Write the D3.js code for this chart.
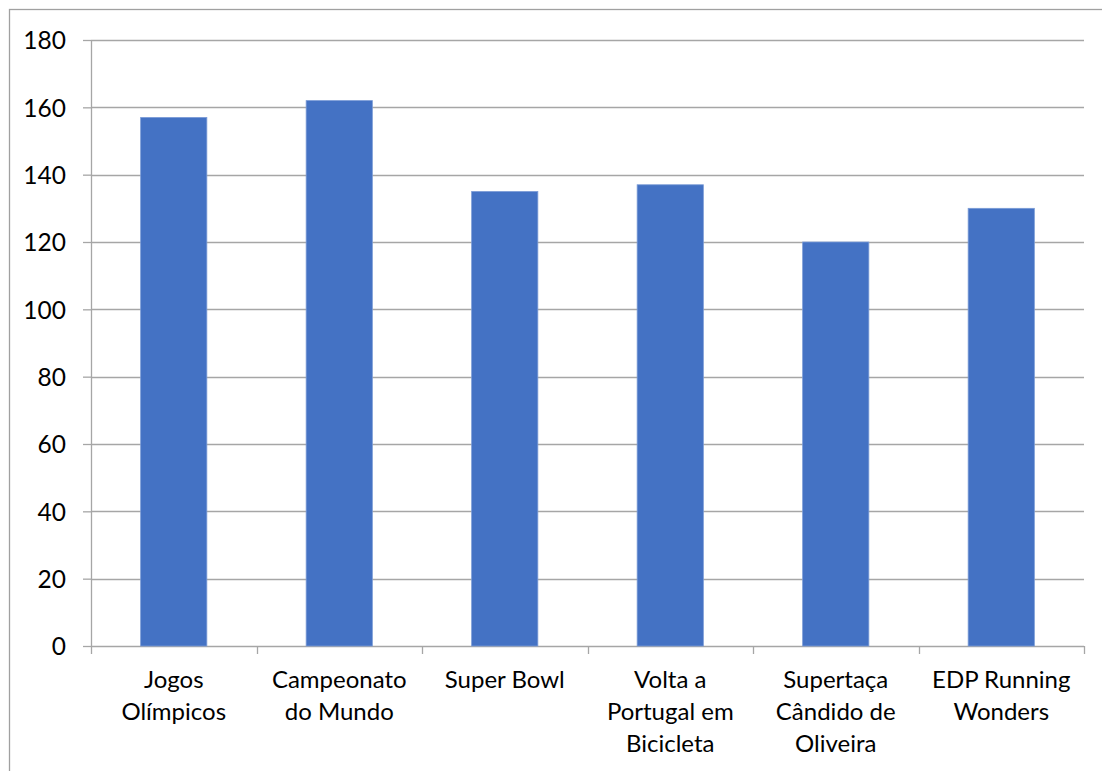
<!DOCTYPE html>
<html>
<head>
<meta charset="utf-8">
<script src="https://cdn.jsdelivr.net/npm/d3@7.9.0/dist/d3.min.js"></script>
<style>
  html, body { margin: 0; padding: 0; background: #fff; }
  svg { display: block; }
  text { font-family: Lato, "Open Sans", sans-serif; fill: #000; }
</style>
</head>
<body>
<div id="chart"></div>
<script>
const categories = [
  ["Jogos", "Olímpicos"],
  ["Campeonato", "do Mundo"],
  ["Super Bowl"],
  ["Volta a", "Portugal em", "Bicicleta"],
  ["Supertaça", "Cândido de", "Oliveira"],
  ["EDP Running", "Wonders"]
];
const values = [157, 162, 135, 137, 120, 130];
const yTicks = [0, 20, 40, 60, 80, 100, 120, 140, 160, 180];

const width = 1102;
const height = 771;
const area = { left: 91, right: 1084, top: 40, bottom: 646 };

const svg = d3.select("#chart")
  .append("svg")
  .attr("width", width)
  .attr("height", height);

// outer chart frame (only left and top visible in the picture)
svg.append("rect")
  .attr("x", 9.5)
  .attr("y", 9.5)
  .attr("width", width + 20)
  .attr("height", height + 20)
  .attr("fill", "none")
  .attr("stroke", "#a0a0a0")
  .attr("stroke-width", 1.3);

const labels = categories.map(d => d.join(" "));

const x = d3.scaleBand()
  .domain(labels)
  .range([area.left, area.right])
  .paddingInner(0.6)
  .paddingOuter(0.3);

const y = d3.scaleLinear()
  .domain([0, 180])
  .range([area.bottom, area.top]);

// y axis ticks and labels
const yAxis = svg.append("g")
  .attr("transform", `translate(${area.left},0)`)
  .call(d3.axisLeft(y).tickValues(yTicks).tickSize(8).tickPadding(17)
    .tickFormat(d3.format("d")));
yAxis.select(".domain").remove();
yAxis.selectAll(".tick line").attr("stroke", "#a6a6a6").attr("stroke-width", 1.3);
yAxis.selectAll(".tick text").style("font-size", "24.5px").attr("dy", "0.36em");

// gridlines
svg.append("g")
  .selectAll("line")
  .data(yTicks)
  .join("line")
  .attr("x1", area.left)
  .attr("x2", area.right)
  .attr("y1", d => Math.round(y(d)) + 0.5)
  .attr("y2", d => Math.round(y(d)) + 0.5)
  .attr("stroke", "#a6a6a6")
  .attr("stroke-width", 1.3);

// vertical axis line
svg.append("line")
  .attr("x1", area.left + 0.5)
  .attr("x2", area.left + 0.5)
  .attr("y1", area.top)
  .attr("y2", area.bottom)
  .attr("stroke", "#a6a6a6")
  .attr("stroke-width", 1.3);

// bars
svg.append("g")
  .selectAll("rect")
  .data(values)
  .join("rect")
  .attr("x", (d, i) => x(labels[i]))
  .attr("y", d => y(d))
  .attr("width", x.bandwidth())
  .attr("height", d => y(0) - y(d))
  .attr("fill", "#4472c4")
  .attr("stroke", "#7a9bd6")
  .attr("stroke-width", 0.8);

// category tick marks at band boundaries
const step = x.step();
const bounds = labels.map(l => x(l) - step * x.paddingInner() / 2)
  .concat([area.right]);
svg.append("g")
  .selectAll("line")
  .data(bounds)
  .join("line")
  .attr("x1", d => Math.round(d) + 0.5)
  .attr("x2", d => Math.round(d) + 0.5)
  .attr("y1", area.bottom)
  .attr("y2", area.bottom + 8)
  .attr("stroke", "#a6a6a6")
  .attr("stroke-width", 1.3);

// category labels
const catText = svg.append("g")
  .selectAll("text")
  .data(categories)
  .join("text")
  .attr("text-anchor", "middle")
  .style("font-size", "24px")
  .attr("transform", (d, i) => `translate(${x(labels[i]) + x.bandwidth() / 2},${area.bottom + 42})`);
catText.selectAll("tspan")
  .data(d => d)
  .join("tspan")
  .attr("x", 0)
  .attr("y", (d, i) => i * 32)
  .text(d => d);
</script>
</body>
</html>
